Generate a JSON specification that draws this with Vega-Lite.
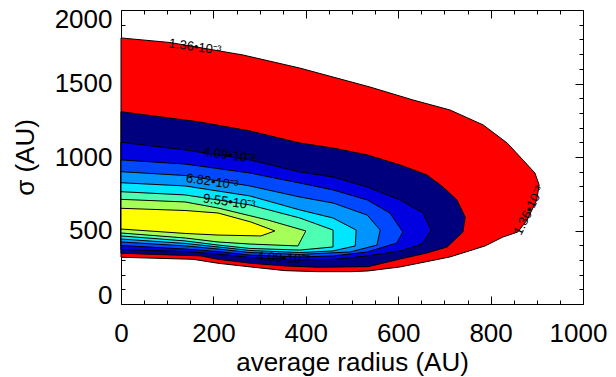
{
  "$schema": "https://vega.github.io/schema/vega-lite/v6.json",
  "width": 462,
  "height": 294,
  "autosize": "none",
  "padding": {"left": 121, "top": 10, "right": 33, "bottom": 73},
  "background": "white",
  "config": {
    "view": {"stroke": null},
    "font": "Liberation Sans",
    "axis": {
      "labelFont": "Liberation Sans",
      "titleFont": "Liberation Sans",
      "labelColor": "black",
      "titleColor": "black",
      "domainColor": "black",
      "tickColor": "black",
      "grid": false,
      "titleFontWeight": "normal",
      "labelFontSize": 26,
      "titleFontSize": 26,
      "labelOverlap": false,
      "labelBound": false
    }
  },
  "datasets": {
    "contours": [
      {"level": 1, "i": 1, "x": 0, "y": 318}, {"level": 1, "i": 2, "x": 156, "y": 304}, {"level": 1, "i": 3, "x": 210, "y": 277}, {"level": 1, "i": 4, "x": 281, "y": 252}, {"level": 1, "i": 5, "x": 355, "y": 227}, {"level": 1, "i": 6, "x": 426, "y": 220}, {"level": 1, "i": 7, "x": 498, "y": 220}, {"level": 1, "i": 8, "x": 535, "y": 225}, {"level": 1, "i": 9, "x": 604, "y": 252}, {"level": 1, "i": 10, "x": 712, "y": 320}, {"level": 1, "i": 11, "x": 788, "y": 395}, {"level": 1, "i": 12, "x": 827, "y": 456}, {"level": 1, "i": 13, "x": 859, "y": 490}, {"level": 1, "i": 14, "x": 879, "y": 571}, {"level": 1, "i": 15, "x": 900, "y": 708}, {"level": 1, "i": 16, "x": 905, "y": 810}, {"level": 1, "i": 17, "x": 896, "y": 891}, {"level": 1, "i": 18, "x": 870, "y": 980}, {"level": 1, "i": 19, "x": 836, "y": 1095}, {"level": 1, "i": 20, "x": 784, "y": 1218}, {"level": 1, "i": 21, "x": 712, "y": 1320}, {"level": 1, "i": 22, "x": 632, "y": 1388}, {"level": 1, "i": 23, "x": 539, "y": 1476}, {"level": 1, "i": 24, "x": 387, "y": 1605}, {"level": 1, "i": 25, "x": 264, "y": 1694}, {"level": 1, "i": 26, "x": 106, "y": 1779}, {"level": 1, "i": 27, "x": 0, "y": 1810},
      {"level": 2, "i": 1, "x": 0, "y": 345}, {"level": 2, "i": 2, "x": 173, "y": 327}, {"level": 2, "i": 3, "x": 210, "y": 304}, {"level": 2, "i": 4, "x": 281, "y": 277}, {"level": 2, "i": 5, "x": 355, "y": 259}, {"level": 2, "i": 6, "x": 426, "y": 250}, {"level": 2, "i": 7, "x": 535, "y": 254}, {"level": 2, "i": 8, "x": 604, "y": 306}, {"level": 2, "i": 9, "x": 662, "y": 347}, {"level": 2, "i": 10, "x": 706, "y": 388}, {"level": 2, "i": 11, "x": 740, "y": 490}, {"level": 2, "i": 12, "x": 745, "y": 592}, {"level": 2, "i": 13, "x": 727, "y": 708}, {"level": 2, "i": 14, "x": 697, "y": 796}, {"level": 2, "i": 15, "x": 662, "y": 878}, {"level": 2, "i": 16, "x": 604, "y": 946}, {"level": 2, "i": 17, "x": 533, "y": 1014}, {"level": 2, "i": 18, "x": 459, "y": 1061}, {"level": 2, "i": 19, "x": 387, "y": 1095}, {"level": 2, "i": 20, "x": 279, "y": 1177}, {"level": 2, "i": 21, "x": 171, "y": 1238}, {"level": 2, "i": 22, "x": 0, "y": 1308},
      {"level": 3, "i": 1, "x": 0, "y": 371}, {"level": 3, "i": 2, "x": 139, "y": 357}, {"level": 3, "i": 3, "x": 210, "y": 340}, {"level": 3, "i": 4, "x": 279, "y": 316}, {"level": 3, "i": 5, "x": 387, "y": 299}, {"level": 3, "i": 6, "x": 459, "y": 303}, {"level": 3, "i": 7, "x": 533, "y": 327}, {"level": 3, "i": 8, "x": 604, "y": 361}, {"level": 3, "i": 9, "x": 652, "y": 408}, {"level": 3, "i": 10, "x": 671, "y": 503}, {"level": 3, "i": 11, "x": 654, "y": 619}, {"level": 3, "i": 12, "x": 604, "y": 708}, {"level": 3, "i": 13, "x": 533, "y": 796}, {"level": 3, "i": 14, "x": 459, "y": 864}, {"level": 3, "i": 15, "x": 387, "y": 898}, {"level": 3, "i": 16, "x": 279, "y": 980}, {"level": 3, "i": 17, "x": 139, "y": 1048}, {"level": 3, "i": 18, "x": 0, "y": 1100},
      {"level": 4, "i": 1, "x": 0, "y": 398}, {"level": 4, "i": 2, "x": 139, "y": 374}, {"level": 4, "i": 3, "x": 210, "y": 357}, {"level": 4, "i": 4, "x": 279, "y": 333}, {"level": 4, "i": 5, "x": 387, "y": 320}, {"level": 4, "i": 6, "x": 459, "y": 327}, {"level": 4, "i": 7, "x": 533, "y": 354}, {"level": 4, "i": 8, "x": 597, "y": 415}, {"level": 4, "i": 9, "x": 610, "y": 490}, {"level": 4, "i": 10, "x": 582, "y": 619}, {"level": 4, "i": 11, "x": 533, "y": 708}, {"level": 4, "i": 12, "x": 459, "y": 776}, {"level": 4, "i": 13, "x": 387, "y": 823}, {"level": 4, "i": 14, "x": 279, "y": 891}, {"level": 4, "i": 15, "x": 139, "y": 952}, {"level": 4, "i": 16, "x": 0, "y": 980},
      {"level": 5, "i": 1, "x": 0, "y": 422}, {"level": 5, "i": 2, "x": 139, "y": 395}, {"level": 5, "i": 3, "x": 210, "y": 374}, {"level": 5, "i": 4, "x": 279, "y": 350}, {"level": 5, "i": 5, "x": 387, "y": 337}, {"level": 5, "i": 6, "x": 496, "y": 354}, {"level": 5, "i": 7, "x": 554, "y": 401}, {"level": 5, "i": 8, "x": 561, "y": 503}, {"level": 5, "i": 9, "x": 533, "y": 605}, {"level": 5, "i": 10, "x": 459, "y": 687}, {"level": 5, "i": 11, "x": 387, "y": 728}, {"level": 5, "i": 12, "x": 279, "y": 803}, {"level": 5, "i": 13, "x": 139, "y": 874}, {"level": 5, "i": 14, "x": 0, "y": 900},
      {"level": 6, "i": 1, "x": 0, "y": 442}, {"level": 6, "i": 2, "x": 139, "y": 412}, {"level": 6, "i": 3, "x": 210, "y": 388}, {"level": 6, "i": 4, "x": 279, "y": 364}, {"level": 6, "i": 5, "x": 387, "y": 350}, {"level": 6, "i": 6, "x": 459, "y": 361}, {"level": 6, "i": 7, "x": 507, "y": 395}, {"level": 6, "i": 8, "x": 509, "y": 503}, {"level": 6, "i": 9, "x": 459, "y": 585}, {"level": 6, "i": 10, "x": 387, "y": 640}, {"level": 6, "i": 11, "x": 279, "y": 735}, {"level": 6, "i": 12, "x": 139, "y": 803}, {"level": 6, "i": 13, "x": 0, "y": 825},
      {"level": 7, "i": 1, "x": 0, "y": 463}, {"level": 7, "i": 2, "x": 139, "y": 429}, {"level": 7, "i": 3, "x": 210, "y": 401}, {"level": 7, "i": 4, "x": 279, "y": 378}, {"level": 7, "i": 5, "x": 387, "y": 367}, {"level": 7, "i": 6, "x": 459, "y": 388}, {"level": 7, "i": 7, "x": 459, "y": 503}, {"level": 7, "i": 8, "x": 387, "y": 585}, {"level": 7, "i": 9, "x": 279, "y": 674}, {"level": 7, "i": 10, "x": 139, "y": 742}, {"level": 7, "i": 11, "x": 0, "y": 764},
      {"level": 8, "i": 1, "x": 0, "y": 483}, {"level": 8, "i": 2, "x": 139, "y": 449}, {"level": 8, "i": 3, "x": 210, "y": 422}, {"level": 8, "i": 4, "x": 279, "y": 408}, {"level": 8, "i": 5, "x": 383, "y": 395}, {"level": 8, "i": 6, "x": 400, "y": 497}, {"level": 8, "i": 7, "x": 318, "y": 571}, {"level": 8, "i": 8, "x": 210, "y": 653}, {"level": 8, "i": 9, "x": 139, "y": 694}, {"level": 8, "i": 10, "x": 0, "y": 712},
      {"level": 9, "i": 1, "x": 0, "y": 510}, {"level": 9, "i": 2, "x": 139, "y": 480}, {"level": 9, "i": 3, "x": 210, "y": 469}, {"level": 9, "i": 4, "x": 303, "y": 463}, {"level": 9, "i": 5, "x": 333, "y": 497}, {"level": 9, "i": 6, "x": 281, "y": 558}, {"level": 9, "i": 7, "x": 210, "y": 619}, {"level": 9, "i": 8, "x": 139, "y": 636}, {"level": 9, "i": 9, "x": 0, "y": 651}
    ],
    "labels": [
      {"x": 160, "y": 1748, "text": "1.36•10⁻³"},
      {"x": 234, "y": 1012, "text": "4.09•10⁻³"},
      {"x": 197, "y": 832, "text": "6.82•10⁻³"},
      {"x": 234, "y": 694, "text": "9.55•10⁻³"},
      {"x": 351, "y": 313, "text": "4.09•10⁻³"},
      {"x": 883, "y": 636, "text": "1.36•10⁻³"}
    ]
  },
  "layer": [
    {
      "data": {"name": "contours"},
      "mark": {"type": "line", "interpolate": "linear-closed", "stroke": "black", "strokeWidth": 1},
      "encoding": {
        "x": {
          "field": "x", "type": "quantitative",
          "scale": {"domain": [0, 1000], "nice": false, "zero": false},
          "axis": {
            "orient": "bottom",
            "values": [0, 50, 100, 150, 200, 250, 300, 350, 400, 450, 500, 550, 600, 650, 700, 750, 800, 850, 900, 950, 1000],
            "format": "d",
            "labelExpr": "datum.value % 200 === 0 ? datum.label : ''",
            "tickSize": {"condition": {"test": "datum.value % 200 === 0", "value": -8}, "value": -4},
            "labelOffset": {"condition": {"test": "datum.value === 1000", "value": -5}, "value": 0},
            "labelPadding": 24,
            "labelFlush": false,
            "title": "average radius (AU)",
            "titlePadding": -1
          }
        },
        "y": {
          "field": "y", "type": "quantitative",
          "scale": {"domain": [0, 2000], "nice": false, "zero": false},
          "axis": {
            "orient": "left",
            "values": [0, 100, 200, 300, 400, 500, 600, 700, 800, 900, 1000, 1100, 1200, 1300, 1400, 1500, 1600, 1700, 1800, 1900, 2000],
            "format": "d",
            "labelExpr": "datum.value % 500 === 0 ? datum.label : ''",
            "tickSize": {"condition": {"test": "datum.value % 500 === 0", "value": -8}, "value": -4},
            "labelPadding": 17,
            "labelFlush": true,
            "labelFlushOffset": 4,
            "title": "σ (AU)",
            "titlePadding": 16
          }
        },
        "fill": {
          "field": "level", "type": "ordinal",
          "scale": {"domain": [1, 2, 3, 4, 5, 6, 7, 8, 9], "range": ["#ff0000", "#00007f", "#0000e0", "#0048ff", "#0094ff", "#00e6ff", "#4dffb3", "#a6ff59", "#ffff00"]},
          "legend": null
        },
        "order": {"field": "i", "type": "quantitative"}
      }
    },
    {
      "data": {"name": "labels"},
      "transform": [{"filter": "datum.x < 800 && datum.y > 400"}],
      "mark": {"type": "text", "font": "Liberation Sans", "fontSize": 13, "color": "black", "angle": 8},
      "encoding": {
        "x": {
          "field": "x", "type": "quantitative",
          "scale": {"domain": [0, 1000], "nice": false, "zero": false},
          "axis": {
            "orient": "top",
            "values": [0, 50, 100, 150, 200, 250, 300, 350, 400, 450, 500, 550, 600, 650, 700, 750, 800, 850, 900, 950, 1000],
            "labels": false,
            "title": null,
            "tickSize": {"condition": {"test": "datum.value % 200 === 0", "value": -8}, "value": -4}
          }
        },
        "y": {
          "field": "y", "type": "quantitative",
          "scale": {"domain": [0, 2000], "nice": false, "zero": false},
          "axis": {
            "orient": "right",
            "values": [0, 100, 200, 300, 400, 500, 600, 700, 800, 900, 1000, 1100, 1200, 1300, 1400, 1500, 1600, 1700, 1800, 1900, 2000],
            "labels": false,
            "title": null,
            "tickSize": {"condition": {"test": "datum.value % 500 === 0", "value": -8}, "value": -4}
          }
        },
        "text": {"field": "text"}
      }
    },
    {
      "data": {"name": "labels"},
      "transform": [{"filter": "datum.y < 400"}],
      "mark": {"type": "text", "font": "Liberation Sans", "fontSize": 13, "color": "black", "angle": 4},
      "encoding": {
        "x": {"field": "x", "type": "quantitative", "scale": {"domain": [0, 1000], "nice": false, "zero": false}, "axis": null},
        "y": {"field": "y", "type": "quantitative", "scale": {"domain": [0, 2000], "nice": false, "zero": false}, "axis": null},
        "text": {"field": "text"}
      }
    },
    {
      "data": {"name": "labels"},
      "transform": [{"filter": "datum.x > 800"}],
      "mark": {"type": "text", "font": "Liberation Sans", "fontSize": 13, "color": "black", "angle": -64},
      "encoding": {
        "x": {"field": "x", "type": "quantitative", "scale": {"domain": [0, 1000], "nice": false, "zero": false}, "axis": null},
        "y": {"field": "y", "type": "quantitative", "scale": {"domain": [0, 2000], "nice": false, "zero": false}, "axis": null},
        "text": {"field": "text"}
      }
    }
  ],
  "resolve": {"axis": {"x": "independent", "y": "independent"}}
}
